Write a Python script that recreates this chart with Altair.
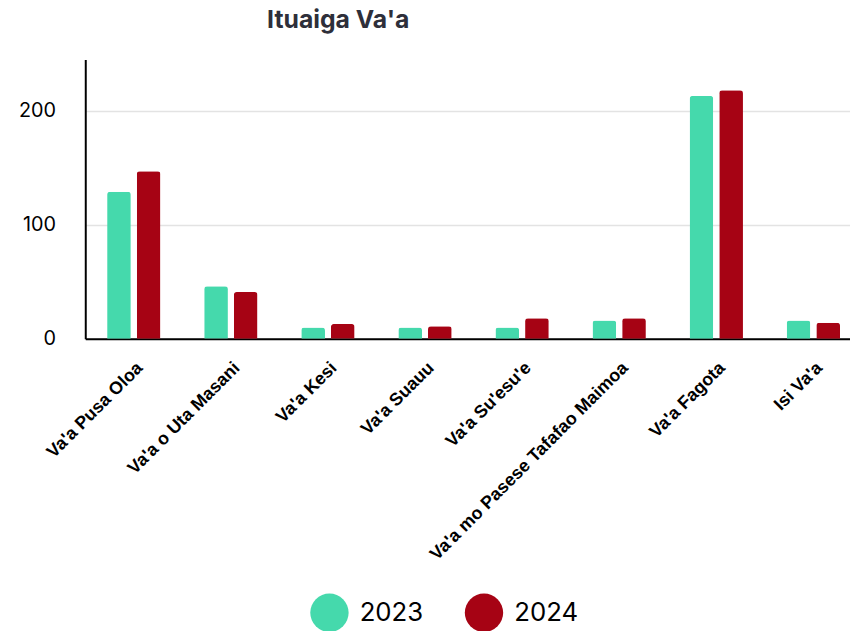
import altair as alt
import pandas as pd

categories = ["Va'a Pusa Oloa", "Va'a o Uta Masani", "Va'a Kesi", "Va'a Suauu",
              "Va'a Su'esu'e", "Va'a mo Pasese Tafafao Maimoa", "Va'a Fagota", "Isi Va'a"]
values_2023 = [129, 46, 10, 10, 10, 16, 213, 16]
values_2024 = [147, 41, 13, 11, 18, 18, 218, 14]
years = ["2023", "2024"]
colors = ["#45d9ac", "#a60314"]

rows = []
for c, a, b in zip(categories, values_2023, values_2024):
    rows.append({"category": c, "year": "2023", "value": a})
    rows.append({"category": c, "year": "2024", "value": b})
df = pd.DataFrame(rows)

chart = alt.Chart(df).mark_bar(
    cornerRadiusTopLeft=3, cornerRadiusTopRight=3
).encode(
    x=alt.X("category:N", sort=categories, title=None,
            scale=alt.Scale(paddingInner=0.45, paddingOuter=0.225),
            axis=alt.Axis(labelAngle=-45, labelAlign="right", labelBaseline="top",
                          labelFont="Liberation Sans", labelFontWeight="bold",
                          labelFontSize=18, labelColor="#000000", labelPadding=20,
                          ticks=False, domainColor="#000000", domainWidth=2,
                          labelLimit=400)),
    xOffset=alt.XOffset("year:N", scale=alt.Scale(paddingInner=0.2)),
    y=alt.Y("value:Q", title=None,
            scale=alt.Scale(domain=[0, 245], nice=False),
            axis=alt.Axis(values=[0, 100, 200], labelFont="Inter", labelFontSize=20,
                          labelColor="#000000", labelPadding=30, ticks=False,
                          domainColor="#000000", domainWidth=2,
                          grid=True, gridColor="#e3e3e3", gridWidth=1.5)),
    color=alt.Color("year:N", title=None,
                    scale=alt.Scale(domain=years, range=colors),
                    legend=alt.Legend(orient="none", legendX=227, legendY=539,
                                      direction="horizontal", symbolType="circle",
                                      symbolSize=1500, symbolStrokeWidth=0,
                                      symbolOpacity=1,
                                      labelFont="Inter", labelFontSize=26,
                                      labelColor="#000000", labelOffset=11,
                                      columnPadding=41)),
).properties(
    width=784,
    height=282,
    title=alt.TitleParams("Ituaiga Va'a", anchor="start", dx=251, offset=27,
                          font="Inter", fontSize=25, fontWeight="bold",
                          color="#2e2f3a"),
    autosize=alt.AutoSizeParams(type="none"),
    padding={"left": 78, "top": 49, "right": -12, "bottom": 292},
).configure_view(stroke=None)

chart.save("out.html", embed_options={"renderer": "svg", "actions": False})
